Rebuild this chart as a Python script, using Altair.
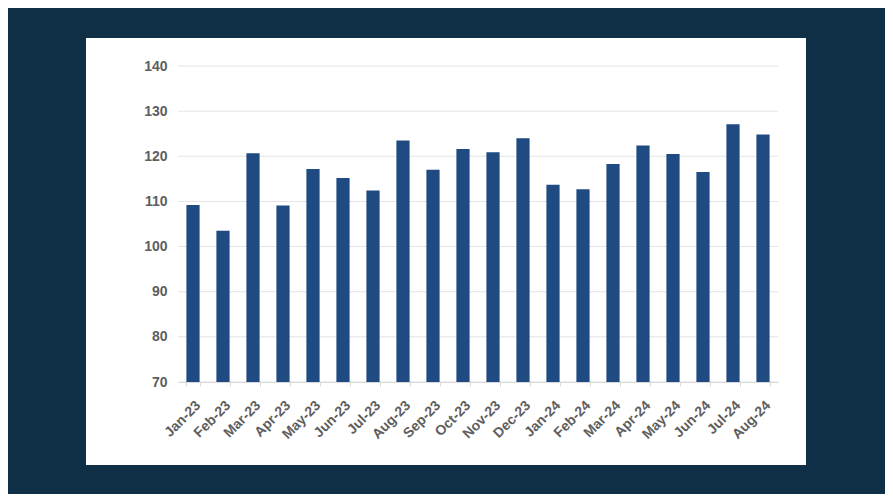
import altair as alt
import pandas as pd

# Monthly index values
months = [
    "Jan-23", "Feb-23", "Mar-23", "Apr-23", "May-23", "Jun-23", "Jul-23",
    "Aug-23", "Sep-23", "Oct-23", "Nov-23", "Dec-23", "Jan-24", "Feb-24",
    "Mar-24", "Apr-24", "May-24", "Jun-24", "Jul-24", "Aug-24",
]
values = [
    109.2, 103.5, 120.7, 109.1, 117.2, 115.2, 112.4, 123.5, 117.0, 121.6,
    120.9, 124.0, 113.7, 112.7, 118.3, 122.4, 120.5, 116.5, 127.1, 124.8,
]
y_ticks = [70, 80, 90, 100, 110, 120, 130, 140]

df = pd.DataFrame({"month": months, "value": values})
grid_df = pd.DataFrame({"tick": y_ticks})

y_scale = alt.Scale(domain=[70, 140], nice=False, zero=False)

# white card behind the chart (dark page around it)
panel = alt.Chart(alt.Data(values=[{}])).mark_rect(color="white").encode(
    x=alt.value(-92), x2=alt.value(628), y=alt.value(-28), y2=alt.value(399)
)

grid = alt.Chart(grid_df).mark_rule(color="#e3e3e3", strokeWidth=1).encode(
    y=alt.Y("tick:Q", scale=y_scale, title=None)
)

bars = alt.Chart(df).mark_bar(color="#1f4a82", clip=True).encode(
    x=alt.X(
        "month:N",
        sort=months,
        title=None,
        scale=alt.Scale(paddingInner=0.56),
        axis=alt.Axis(
            labelAngle=-45,
            labelFontSize=14,
            labelFontWeight="bold",
            labelColor="#5e5e5e",
            labelFont="Liberation Sans",
            labelPadding=12,
            domainColor="#d9d9d9",
            tickColor="#d9d9d9",
            tickSize=4,
            tickBand="extent",
            grid=False,
            zindex=1,
        ),
    ),
    y=alt.Y(
        "value:Q",
        scale=y_scale,
        title=None,
        axis=alt.Axis(
            values=y_ticks,
            labelFontSize=14,
            labelFontWeight="bold",
            labelColor="#5e5e5e",
            labelFont="Liberation Sans",
            labelPadding=11,
            domain=False,
            ticks=False,
            grid=False,
            zindex=1,
        ),
    ),
)

# total 877 x 486 so the page (8px margins) does not overflow
chart = (
    alt.layer(panel, grid, bars)
    .properties(
        width=600,
        height=316,
        background="#0e2f45",
        autosize=alt.AutoSizeParams(type="none"),
        padding={"left": 170, "top": 58, "right": 107, "bottom": 112},
    )
    .configure_view(strokeWidth=0)
)

chart.save("out.html", embed_options={"renderer": "svg", "actions": False})
